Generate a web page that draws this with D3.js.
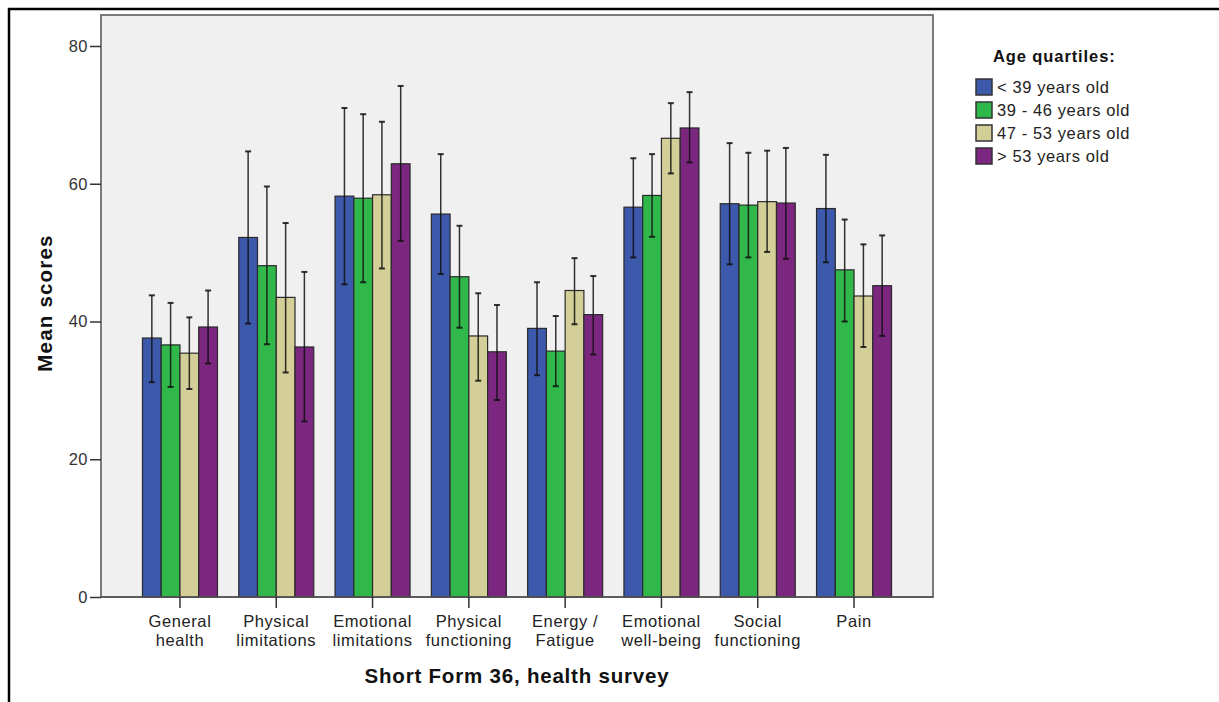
<!DOCTYPE html>
<html>
<head>
<meta charset="utf-8">
<script src="https://cdn.jsdelivr.net/npm/d3@7/dist/d3.min.js"></script>
<style>
	body { margin: 0; background: #fff; }
	svg { display: block; font-family: 'Liberation Sans', Arial, sans-serif; }
</style>
</head>
<body>
<svg id="chart"></svg>
<script>
const categories = [
	['General', 'health'],
	['Physical', 'limitations'],
	['Emotional', 'limitations'],
	['Physical', 'functioning'],
	['Energy /', 'Fatigue'],
	['Emotional', 'well-being'],
	['Social', 'functioning'],
	['Pain']
]
const groups = ['< 39 years old', '39 - 46 years old', '47 - 53 years old', '> 53 years old']

// mean per age group, in category order
const meanYoung = [37.6, 52.2, 58.2, 55.6, 39.0, 56.6, 57.1, 56.4]
const meanMid1 = [36.6, 48.1, 57.9, 46.5, 35.7, 58.3, 56.9, 47.5]
const meanMid2 = [35.4, 43.5, 58.4, 37.9, 44.5, 66.6, 57.4, 43.7]
const meanOld = [39.2, 36.3, 62.9, 35.6, 41.0, 68.1, 57.2, 45.2]

// error bar ends
const highYoung = [43.8, 64.7, 71.0, 64.3, 45.7, 63.7, 65.9, 64.2]
const lowYoung = [31.2, 39.7, 45.4, 46.9, 32.2, 49.3, 48.3, 48.6]
const highMid1 = [42.7, 59.6, 70.1, 53.9, 40.8, 64.3, 64.5, 54.8]
const lowMid1 = [30.5, 36.7, 45.7, 39.1, 30.6, 52.3, 49.3, 40.0]
const highMid2 = [40.6, 54.3, 69.0, 44.1, 49.2, 71.7, 64.8, 51.2]
const lowMid2 = [30.2, 32.6, 47.7, 31.4, 39.6, 61.5, 50.1, 36.3]
const highOld = [44.5, 47.2, 74.2, 42.4, 46.6, 73.3, 65.2, 52.5]
const lowOld = [33.9, 25.5, 51.7, 28.6, 35.2, 63.1, 49.1, 37.9]

const yTicks = [0, 20, 40, 60, 80]
const colors = ['#3d59ab', '#31b84b', '#d4cf98', '#7b2780']

const means = [meanYoung, meanMid1, meanMid2, meanOld]
const highs = [highYoung, highMid1, highMid2, highOld]
const lows = [lowYoung, lowMid1, lowMid2, lowOld]

const W = 1219, H = 702
const plot = {left: 101, right: 933, top: 15, bottom: 597}

const svg = d3.select('#chart')
	.attr('width', W)
	.attr('height', H)

// outer frame
svg.append('path')
	.attr('d', `M9,${H} V9 H${W}`)
	.attr('fill', 'none')
	.attr('stroke', '#000')
	.attr('stroke-width', 2.5)

// plot background
svg.append('rect')
	.attr('x', plot.left)
	.attr('y', plot.top)
	.attr('width', plot.right - plot.left)
	.attr('height', plot.bottom - plot.top)
	.attr('fill', '#f0f0f0')
	.attr('stroke', '#7a7a7a')
	.attr('stroke-width', 2)

const keys = categories.map((d, i) => i)

const x0 = d3.scaleBand()
	.domain(keys)
	.range([plot.left, plot.right])
	.paddingInner(0)
	.paddingOuter(0.32)

const groupW = 75
const x1 = d3.scaleBand()
	.domain(d3.range(groups.length))
	.range([0, groupW])

const y = d3.scaleLinear()
	.domain([0, 80])
	.range([plot.bottom, 46])

const rows = []
keys.forEach(c => {
	groups.forEach((g, j) => {
		rows.push({c, j, v: means[j][c], hi: highs[j][c], lo: lows[j][c]})
	})
})

const barX = d => x0(d.c) + x0.bandwidth() / 2 - groupW / 2 + x1(d.j)

// bars
svg.append('g').selectAll('rect')
	.data(rows)
	.join('rect')
	.attr('x', d => barX(d))
	.attr('y', d => y(d.v))
	.attr('width', x1.bandwidth())
	.attr('height', d => y(0) - y(d.v))
	.attr('fill', d => colors[d.j])
	.attr('stroke', '#2a2a2a')
	.attr('stroke-width', 1.2)

// error bars
const eb = svg.append('g')
	.attr('stroke', '#111')
	.attr('stroke-opacity', 0.85)
eb.selectAll('line.v')
	.data(rows)
	.join('line')
	.attr('class', 'v')
	.attr('x1', d => barX(d) + x1.bandwidth() / 2)
	.attr('x2', d => barX(d) + x1.bandwidth() / 2)
	.attr('y1', d => y(d.hi))
	.attr('y2', d => y(d.lo))
	.attr('stroke-width', 1.5)
eb.selectAll('line.hi')
	.data(rows)
	.join('line')
	.attr('class', 'hi')
	.attr('x1', d => barX(d) + x1.bandwidth() / 2 - 3)
	.attr('x2', d => barX(d) + x1.bandwidth() / 2 + 3)
	.attr('y1', d => y(d.hi))
	.attr('y2', d => y(d.hi))
	.attr('stroke-width', 2)
eb.selectAll('line.lo')
	.data(rows)
	.join('line')
	.attr('class', 'lo')
	.attr('x1', d => barX(d) + x1.bandwidth() / 2 - 3)
	.attr('x2', d => barX(d) + x1.bandwidth() / 2 + 3)
	.attr('y1', d => y(d.lo))
	.attr('y2', d => y(d.lo))
	.attr('stroke-width', 2)

// y axis
const yAxis = d3.axisLeft(y)
	.tickValues(yTicks)
	.tickSize(11)
	.tickPadding(2)
const yg = svg.append('g')
	.attr('transform', `translate(${plot.left},0)`)
	.call(yAxis)
yg.select('.domain').remove()
yg.selectAll('.tick line').attr('stroke', '#333').attr('stroke-width', 1.5)
yg.selectAll('.tick text')
	.attr('font-size', 16.5)
	.attr('letter-spacing', 0.5)
	.attr('fill', '#333')
	.attr('font-family', "'Liberation Sans', Arial, sans-serif")

// x axis
const xAxis = d3.axisBottom(x0)
	.tickSize(11)
	.tickFormat('')
const xg = svg.append('g')
	.attr('transform', `translate(0,${plot.bottom})`)
	.call(xAxis)
xg.select('.domain').attr('stroke', '#555').attr('stroke-width', 1.5)
	.attr('d', `M${plot.left},0H${plot.right}`)
xg.selectAll('.tick line').attr('stroke', '#333').attr('stroke-width', 1.5)

const xl = svg.append('g')
	.selectAll('text')
	.data(keys)
	.join('text')
	.attr('x', d => x0(d) + x0.bandwidth() / 2)
	.attr('y', 627)
	.attr('text-anchor', 'middle')
	.attr('font-size', 16.5)
	.attr('letter-spacing', 0.6)
	.attr('fill', '#222')
xl.selectAll('tspan')
	.data(d => categories[d])
	.join('tspan')
	.attr('x', function () { return d3.select(this.parentNode).attr('x') })
	.attr('dy', (d, i) => i === 0 ? 0 : 19)
	.text(d => d)

// axis titles
svg.append('text')
	.attr('x', (plot.left + plot.right) / 2)
	.attr('y', 683)
	.attr('text-anchor', 'middle')
	.attr('font-size', 20.5)
	.attr('letter-spacing', 0.8)
	.attr('font-weight', 'bold')
	.attr('fill', '#111')
	.text('Short Form 36, health survey')

svg.append('text')
	.attr('transform', 'translate(52,303) rotate(-90)')
	.attr('text-anchor', 'middle')
	.attr('font-size', 20.5)
	.attr('letter-spacing', 1.2)
	.attr('font-weight', 'bold')
	.attr('fill', '#111')
	.text('Mean scores')

// legend
const lg = svg.append('g')
lg.append('text')
	.attr('x', 993)
	.attr('y', 62)
	.attr('font-size', 16.5)
	.attr('letter-spacing', 0.9)
	.attr('font-weight', 'bold')
	.attr('fill', '#111')
	.text('Age quartiles:')
const li = lg.selectAll('g.item')
	.data(groups)
	.join('g')
	.attr('class', 'item')
	.attr('transform', (d, i) => `translate(976,${79 + i * 23})`)
li.append('rect')
	.attr('width', 16)
	.attr('height', 16)
	.attr('fill', (d, i) => colors[i])
	.attr('stroke', '#333')
	.attr('stroke-width', 1.5)
li.append('text')
	.attr('x', 21)
	.attr('y', 14)
	.attr('font-size', 16.5)
	.attr('letter-spacing', 0.6)
	.attr('fill', '#222')
	.text(d => d)
</script>
</body>
</html>
